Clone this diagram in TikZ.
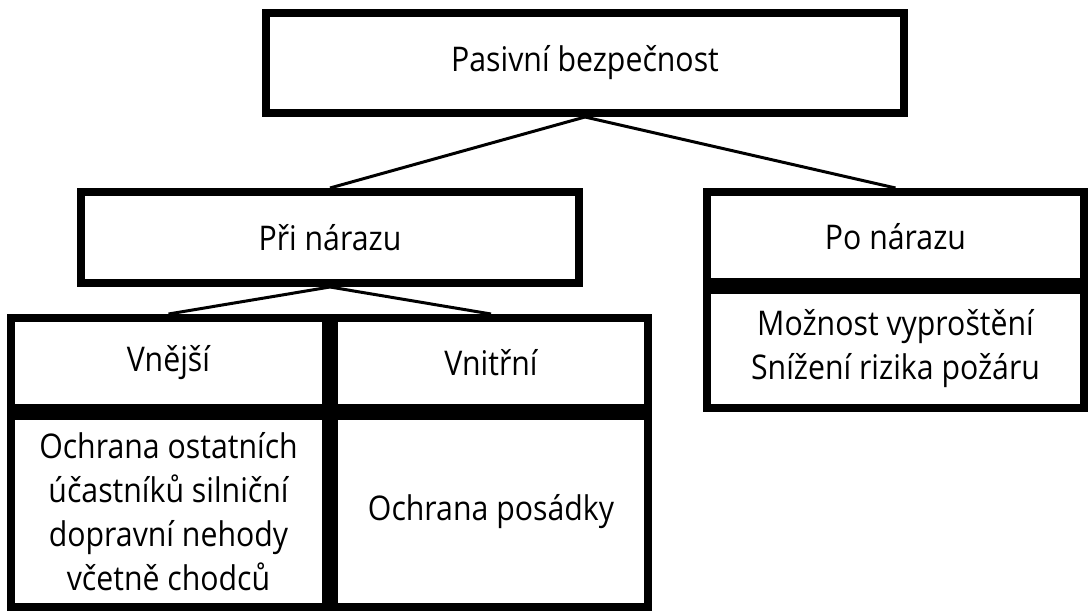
\documentclass[tikz,border=0pt]{standalone}
\usepackage{fontspec}
\setmainfont{Open Sans}[FakeStretch=0.89]
\begin{document}
\begin{tikzpicture}[x=1pt,y=-1pt,
  box/.style={draw=black, line width=8pt, fill=white, inner sep=0pt, align=center,
    font=\fontsize{34}{44}\selectfont},
  conn/.style={line width=3pt}]
\useasboundingbox[fill=white] (0,0) rectangle (1091,612);
\node[box, minimum width=638pt, minimum height=100pt] (top) at (585,63) {Pasivní bezpečnost};
\node[box, minimum width=498pt, minimum height=91pt] (pri) at (330,237.5) {Při nárazu};
\node[box, minimum width=377pt, minimum height=90pt] (po) at (895.5,237) {Po nárazu};
\node[box, minimum width=377pt, minimum height=118pt] (moz) at (895.5,349) {Možnost vyproštění\\Snížení rizika požáru};
\node[box, minimum width=315pt, minimum height=90pt] (vne) at (168.5,363) {Vnější};
\node[box, minimum width=314pt, minimum height=90pt] (vni) at (491,363) {Vnitřní};
\node[box, minimum width=315pt, minimum height=191pt] (ost) at (168.5,511.5) {Ochrana ostatních\\účastníků silniční\\dopravní nehody\\včetně chodců};
\node[box, minimum width=314pt, minimum height=191pt] (pos) at (491,511.5) {Ochrana posádky};
\draw[conn] (top.south) -- (pri.north);
\draw[conn] (top.south) -- (po.north);
\draw[conn] (pri.south) -- (vne.north);
\draw[conn] (pri.south) -- (vni.north);
\end{tikzpicture}
\end{document}
